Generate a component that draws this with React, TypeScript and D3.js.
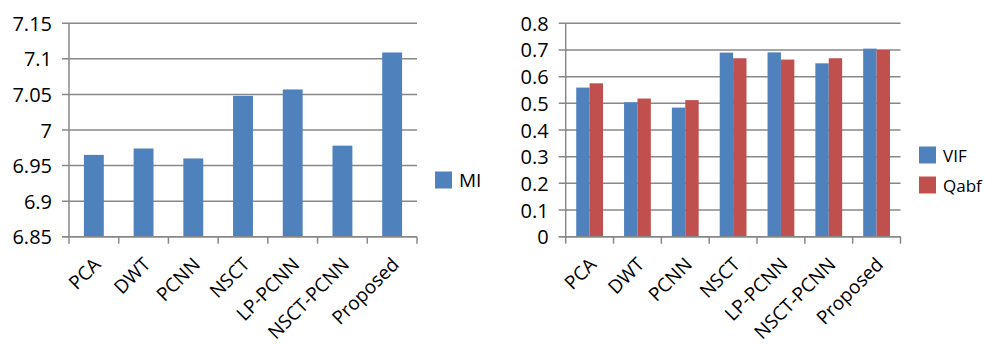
import React from 'react';
import * as d3 from 'd3';

// Fusion methods compared on the x axis of both panels
const CATEGORIES = ['PCA', 'DWT', 'PCNN', 'NSCT', 'LP-PCNN', 'NSCT-PCNN', 'Proposed'];

// Mutual information per method
const MI = [6.965, 6.974, 6.96, 7.048, 7.057, 6.978, 7.109];
// Visual information fidelity and edge-based quality per method
const VIF = [0.559, 0.504, 0.484, 0.69, 0.691, 0.65, 0.705];
const QABF = [0.575, 0.518, 0.512, 0.669, 0.664, 0.669, 0.7];

const MI_TICKS = [6.85, 6.9, 6.95, 7, 7.05, 7.1, 7.15];
const QUALITY_TICKS = [0, 0.1, 0.2, 0.3, 0.4, 0.5, 0.6, 0.7, 0.8];

const BLUE = '#4F81BD';
const RED = '#C0504D';
const GRID = '#888888';
const FONT = "'Open Sans', 'Noto Sans', sans-serif";

type Series = { name: string; values: number[]; color: string };

type PanelProps = {
  series: Series[];
  ticks: number[];
  left: number;
  right: number;
  top: number;
  bottom: number;
  groupFrac: number;
  legendX: number;
  legendY: number;
  legendFont: number;
};

function BarPanel({ series, ticks, left, right, top, bottom, groupFrac, legendX, legendY, legendFont }: PanelProps) {
  const x = d3.scaleBand<string>().domain(CATEGORIES).range([left, right]).padding(0);
  const y = d3
    .scaleLinear()
    .domain([ticks[0], ticks[ticks.length - 1]])
    .range([bottom, top]);
  const bw = x.bandwidth();
  const groupW = bw * groupFrac;
  const inner = d3
    .scaleBand<string>()
    .domain(series.map((s) => s.name))
    .range([0, groupW])
    .padding(0);
  const boundaries = CATEGORIES.map((c) => x(c) as number).concat([right]);
  const fmt = (v: number) => `${+v.toFixed(2)}`;

  return (
    <g>
      {/* horizontal gridlines with small ticks left of the axis */}
      {ticks.map((t) => (
        <line key={`g${t}`} x1={left - 7} x2={right} y1={y(t)} y2={y(t)} stroke={GRID} strokeWidth={1.5} />
      ))}
      {ticks.map((t) => (
        <text
          key={`l${t}`}
          x={left - 17}
          y={y(t)}
          textAnchor="end"
          dominantBaseline="central"
          fontSize={20}
          fontFamily={FONT}
          fill="#000"
        >
          {fmt(t)}
        </text>
      ))}
      {/* bars */}
      {series.map((s) =>
        s.values.map((v, i) => {
          const cat = CATEGORIES[i];
          const bx = (x(cat) as number) + (bw - groupW) / 2 + (inner(s.name) as number);
          return (
            <rect
              key={`${s.name}${cat}`}
              x={bx}
              y={y(v)}
              width={inner.bandwidth()}
              height={bottom - y(v)}
              fill={s.color}
            />
          );
        })
      )}
      {/* axes */}
      <line x1={left} x2={left} y1={top} y2={bottom} stroke={GRID} strokeWidth={1.5} />
      <line x1={left - 7} x2={right} y1={bottom} y2={bottom} stroke={GRID} strokeWidth={1.5} />
      {boundaries.map((bx, i) => (
        <line key={`t${i}`} x1={bx} x2={bx} y1={bottom} y2={bottom + 7} stroke={GRID} strokeWidth={1.5} />
      ))}
      {/* rotated category labels */}
      {CATEGORIES.map((c) => {
        const cx = (x(c) as number) + bw / 2;
        return (
          <text
            key={`c${c}`}
            transform={`translate(${cx + 8},${bottom + 29}) rotate(-45)`}
            textAnchor="end"
            fontSize={19}
            fontFamily={FONT}
            fill="#000"
          >
            {c}
          </text>
        );
      })}
      {/* legend */}
      {series.map((s, i) => {
        const ly = legendY + i * 30;
        return (
          <g key={`lg${s.name}`}>
            <rect x={legendX} y={ly - 8.5} width={17} height={17} fill={s.color} />
            <text
              x={legendX + 24}
              y={ly}
              dominantBaseline="central"
              fontSize={legendFont}
              fontFamily={FONT}
              fill="#000"
            >
              {s.name}
            </text>
          </g>
        );
      })}
    </g>
  );
}

export default function App() {
  return (
    <svg
      width={985}
      height={346}
      style={{ position: 'absolute', left: 0, top: 0, background: '#fff' }}
    >
      <rect width={985} height={346} fill="#fff" />
      <BarPanel
        series={[{ name: 'MI', values: MI, color: BLUE }]}
        ticks={MI_TICKS}
        left={69}
        right={417}
        top={23.3}
        bottom={236.7}
        groupFrac={0.4}
        legendX={435}
        legendY={180}
        legendFont={19}
      />
      <BarPanel
        series={[
          { name: 'VIF', values: VIF, color: BLUE },
          { name: 'Qabf', values: QABF, color: RED },
        ]}
        ticks={QUALITY_TICKS}
        left={565.7}
        right={900.5}
        top={23.3}
        bottom={236.7}
        groupFrac={0.56}
        legendX={919}
        legendY={155}
        legendFont={17}
      />
    </svg>
  );
}
